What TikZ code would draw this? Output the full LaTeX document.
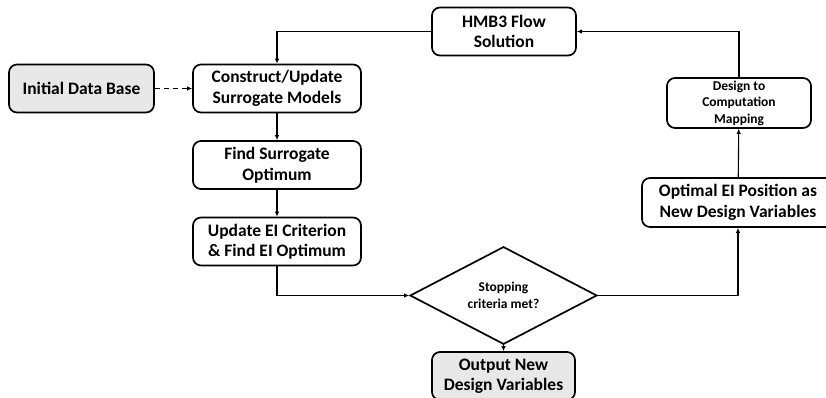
\documentclass[tikz,border=0pt]{standalone}
\usepackage{fontspec}
\setmainfont{Carlito}
\usetikzlibrary{shapes.geometric}
\usetikzlibrary{arrows.meta}
\definecolor{lightergray}{RGB}{232,232,232}

\begin{document}
\begin{tikzpicture}[x=1pt,y=-1pt]
\tikzset{box/.style={draw=black, line width=1.7pt, rounded corners=8pt, align=center, inner sep=0pt, minimum width=168pt, minimum height=48pt, font=\bfseries\fontsize{17.5}{20.5}\selectfont}}
\tikzset{small/.style={font=\bfseries\fontsize{13.5}{16.5}\selectfont}}
\tikzset{link/.style={line width=1.1pt, -{Latex[length=5pt,width=4.5pt]}}}
\useasboundingbox (0,0) rectangle (826,398);

\node[box, fill=lightergray, minimum width=145pt] (initdb) at (81.5,88.5) {Initial Data Base};
\node[box] (build) at (277,88.5) {Construct/Update\\Surrogate Models};
\node[box] (surropt) at (277,165) {Find Surrogate\\Optimum};
\node[box] (eiopt) at (277,241.5) {Update EI Criterion\\\& Find EI Optimum};
\node[box, minimum width=144pt] (flow) at (504,31.5) {HMB3 Flow\\Solution};
\node[box, small, minimum width=144pt, minimum height=50pt] (mapping) at (739,103) {Design to\\Computation\\Mapping};
\node[box, minimum width=192pt, minimum height=49pt] (eipos) at (738,202.5) {Optimal EI Position as\\New Design Variables};
\node[diamond, small, draw=black, line width=1.7pt, inner sep=0pt, minimum width=187pt, minimum height=59pt, align=center] (stop) at (503.5,295.5) {Stopping\\criteria met?};
\node[box, fill=lightergray, minimum width=143pt] (output) at (503.5,376) {Output New\\Design Variables};

\draw[link, dash pattern=on 5pt off 4pt] (initdb) -- (build);
\draw[link] (build) -- (surropt);
\draw[link] (surropt) -- (eiopt);
\draw[link] (eiopt.south) |- (stop.west);
\draw[link] (stop) -- (output);
\draw[link] (stop.east) -| (eipos.south);
\draw[link] (eipos) -- (mapping);
\draw[link] (mapping.north) |- (flow.east);
\draw[link] (flow.west) -| (build.north);

\end{tikzpicture}
\end{document}
